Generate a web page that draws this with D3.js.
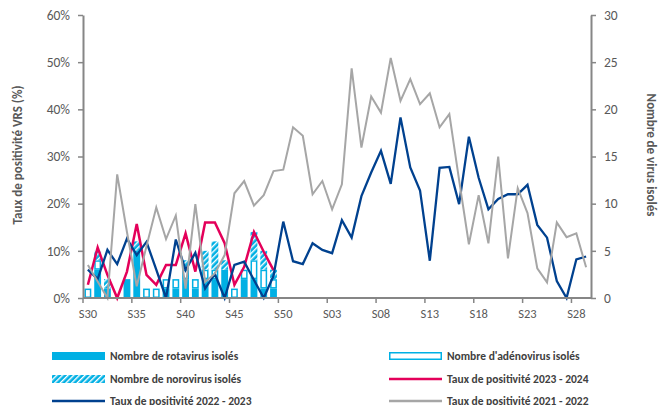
<!DOCTYPE html>
<html>
<head>
<meta charset="utf-8">
<script src="https://cdn.jsdelivr.net/npm/d3@7"></script>
<style>
body { margin: 0; background: #fff; }
text { font-family: Carlito, Lato, "Open Sans", sans-serif; }
</style>
</head>
<body>
<div id="chart"></div>
<script>
// semaines S30 -> S29
const weeks = ["S30","S31","S32","S33","S34","S35","S36","S37","S38","S39","S40","S41","S42","S43","S44","S45","S46","S47","S48","S49","S50","S51","S52",
  "S01","S02","S03","S04","S05","S06","S07","S08","S09","S10","S11","S12","S13","S14","S15","S16","S17","S18","S19","S20","S21","S22","S23","S24","S25","S26","S27","S28","S29"];
const xLabels = ["S30","S35","S40","S45","S50","S03","S08","S13","S18","S23","S28"];

// nombre de virus isolés (saison 2023-2024, S30 -> S49)
const rota  = [0,3,1,0,2,5,0,0,1,1,2,1,2,2,3,0,2,2,1,1];
const adeno = [1,1,0,0,0,0,1,1,1,1,1,1,1,1,0,1,1,2,2,1];
const noro  = [0,1,1,0,0,1,0,0,0,0,1,0,2,3,1,0,0,3,2,1];

// taux de positivité VRS (%)
const taux2324 = [2.8,10.7,4.9,0,5.6,15.7,4.9,2.8,7.0,7.0,13.7,5.6,16.0,16.0,11.6,2.8,6.6,14.0,9.8,5.9];
const taux2223 = [6.0,4.0,10.2,7.2,12.6,9.1,11.9,6.0,0,12.4,5.9,9.6,2.0,5.1,0,7.0,7.7,3.8,0,4.7,
  16.2,7.8,7.2,11.6,10.2,9.5,16.5,12.8,21.6,26.6,31.2,24.2,38.3,27.7,22.8,7.9,27.6,27.8,19.9,34.2,
  25.5,18.8,21.0,22.0,22.0,24.0,15.5,12.8,3.6,0,8.2,8.8];
const taux2122 = [7.0,3.5,0,26.2,14.0,2.5,11.0,19.2,12.5,17.5,2.0,19.9,3.4,5.2,9.1,22.2,24.8,19.6,21.8,26.9,
  27.2,36.2,34.4,22.0,24.8,18.8,24.1,48.7,31.9,42.7,39.3,50.9,41.8,46.4,41.1,43.4,36.2,39.0,25.0,11.4,
  21.8,11.6,30.0,8.4,23.3,18.0,6.3,3.3,16.0,12.9,13.7,6.5];

const w = 666, h = 405;
const mLeft = 83, mRight = 591, mTop = 15, mBottom = 298;
const cyan = "#00B0E4", red = "#E4005A", navy = "#00418F", grey = "#A6A6A6", txt = "#595959", axisCol = "#868686";

const svg = d3.select("#chart").append("svg").attr("width", w).attr("height", h);

// motif hachuré pour norovirus
const defs = svg.append("defs");
const pat = defs.append("pattern").attr("id","hatch").attr("patternUnits","userSpaceOnUse")
  .attr("width",4).attr("height",4).attr("patternTransform","rotate(45)");
pat.append("rect").attr("width",4).attr("height",4).attr("fill",cyan);
pat.append("rect").attr("x",0).attr("y",0).attr("width",1.4).attr("height",4).attr("fill","#fff");

const x = d3.scaleBand().domain(weeks).range([mLeft, mRight]).paddingInner(0.3).paddingOuter(0.15);
const yL = d3.scaleLinear().domain([0, 60]).range([mBottom, mTop]);
const yR = d3.scaleLinear().domain([0, 30]).range([mBottom, mTop]);
const cx = d => x(d) + x.bandwidth() / 2;
const edge = d => x(d) - x.step() * 0.15;

// barres empilées
const stackData = rota.map((r, i) => ({ week: weeks[i], rota: r, adeno: adeno[i], noro: noro[i] }));
const stack = d3.stack().keys(["rota","adeno","noro"])(stackData);
const fills = { rota: cyan, adeno: "#fff", noro: "url(#hatch)" };

stack.forEach(layer => {
  svg.append("g").selectAll("rect")
    .data(layer.filter(d => d[1] > d[0]))
    .enter().append("rect")
    .attr("x", d => x(d.data.week) + (layer.key === "adeno" ? 0.75 : 0))
    .attr("y", d => yR(d[1]) + (layer.key === "adeno" ? 0.75 : 0))
    .attr("width", x.bandwidth() - (layer.key === "adeno" ? 1.5 : 0))
    .attr("height", d => yR(d[0]) - yR(d[1]) - (layer.key === "adeno" ? 1.5 : 0))
    .attr("fill", fills[layer.key])
    .attr("stroke", layer.key === "adeno" ? cyan : "none")
    .attr("stroke-width", 1.5);
});

// courbes
const line = d3.line().x((d, i) => cx(weeks[i])).y(d => yL(d));
svg.append("path").datum(taux2324).attr("d", line).attr("fill","none").attr("stroke",red).attr("stroke-width",2.5);
svg.append("path").datum(taux2223).attr("d", line).attr("fill","none").attr("stroke",navy).attr("stroke-width",2.3);
svg.append("path").datum(taux2122).attr("d", line).attr("fill","none").attr("stroke",grey).attr("stroke-width",2);

// axes
const axL = svg.append("g").attr("transform", "translate(" + mLeft + ",0)")
  .call(d3.axisLeft(yL).tickValues([0,10,20,30,40,50,60]).tickFormat(d => d + "%").tickSize(5).tickSizeOuter(0));
const axR = svg.append("g").attr("transform", "translate(" + mRight + ",0)")
  .call(d3.axisRight(yR).tickValues([0,5,10,15,20,25,30]).tickSize(5).tickSizeOuter(0));
[axL, axR].forEach(a => {
  a.select(".domain").attr("stroke", axisCol).attr("stroke-width", 2);
  a.selectAll(".tick line").attr("stroke", axisCol).attr("stroke-width", 1.5);
  a.selectAll(".tick text").attr("fill", txt).attr("font-size", 13.5);
});
axL.selectAll(".tick text").attr("x", -13);
axR.selectAll(".tick text").attr("x", 13);

const xa = svg.append("g");
xa.append("line").attr("x1", mLeft).attr("x2", mRight).attr("y1", mBottom).attr("y2", mBottom)
  .attr("stroke", axisCol).attr("stroke-width", 2);
xa.selectAll("line.t").data(xLabels).enter().append("line").attr("class","t")
  .attr("x1", d => edge(d)).attr("x2", d => edge(d)).attr("y1", mBottom).attr("y2", mBottom + 5)
  .attr("stroke", axisCol).attr("stroke-width", 1.5);
xa.selectAll("text").data(xLabels).enter().append("text")
  .attr("x", d => cx(d)).attr("y", mBottom + 20).attr("text-anchor","middle")
  .attr("fill", txt).attr("font-size", 12.5).text(d => d);

// titres des axes
svg.append("text").attr("transform", "translate(22," + 155 + ") rotate(-90)")
  .attr("text-anchor","middle").attr("font-size",13).attr("font-weight","bold").attr("fill",txt)
  .text("Taux de positivité VRS (%)");
svg.append("text").attr("transform", "translate(647," + 155 + ") rotate(90)")
  .attr("text-anchor","middle").attr("font-size",13).attr("font-weight","bold").attr("fill",txt)
  .text("Nombre de virus isolés");

// légende
const legend = [
  { label: "Nombre de rotavirus isolés", type: "rota", lx: 52, ly: 356 },
  { label: "Nombre d'adénovirus isolés", type: "adeno", lx: 389, ly: 356 },
  { label: "Nombre de norovirus isolés", type: "noro", lx: 52, ly: 379 },
  { label: "Taux de positivité 2023 - 2024", type: "l", col: red, lx: 389, ly: 379 },
  { label: "Taux de positivité 2022 - 2023", type: "l", col: navy, lx: 52, ly: 401 },
  { label: "Taux de positivité 2021 - 2022", type: "l", col: grey, lx: 389, ly: 401 }
];
const lg = svg.append("g").selectAll("g").data(legend).enter().append("g")
  .attr("transform", d => "translate(" + d.lx + "," + d.ly + ")");
lg.filter(d => d.type !== "l").append("rect")
  .attr("x", d => d.type === "adeno" ? 0.75 : 0).attr("y", d => d.type === "adeno" ? -3.25 : -4)
  .attr("width", d => d.type === "adeno" ? 51.5 : 53).attr("height", d => d.type === "adeno" ? 6.5 : 8)
  .attr("fill", d => fills[d.type])
  .attr("stroke", d => d.type === "adeno" ? cyan : "none").attr("stroke-width", 1.5);
lg.filter(d => d.type === "l").append("line")
  .attr("x1", 0).attr("x2", 53).attr("y1", 0).attr("y2", 0)
  .attr("stroke", d => d.col).attr("stroke-width", 2.5);
lg.append("text").attr("x", 58).attr("y", 4).attr("font-size", 11.5).attr("font-weight","bold")
  .attr("fill", "#404040").text(d => d.label);
</script>
</body>
</html>
